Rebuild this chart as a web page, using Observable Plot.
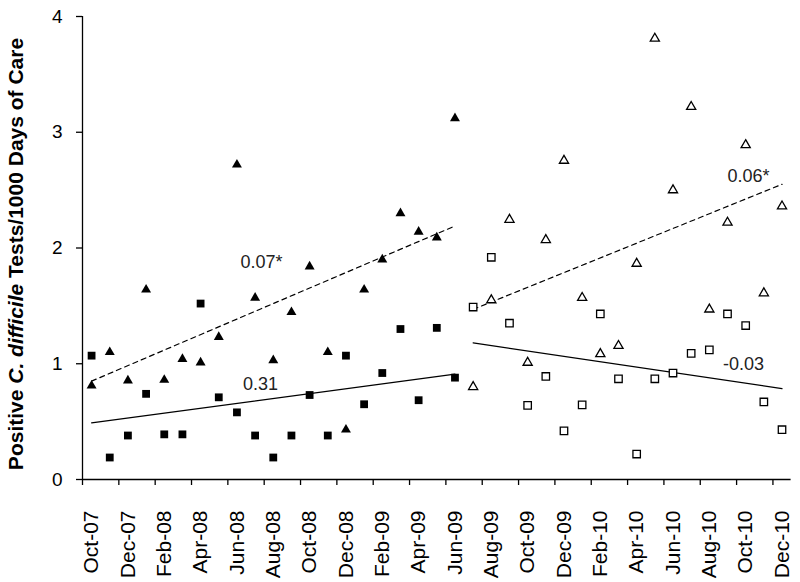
<!DOCTYPE html>
<html>
<head>
<meta charset="utf-8">
<script src="https://cdn.jsdelivr.net/npm/d3@7"></script>
<script src="https://cdn.jsdelivr.net/npm/@observablehq/plot@0.6"></script>
<style>
  html, body { margin: 0; padding: 0; background: #fff; }
  svg { font-family: "Liberation Sans", Arial, sans-serif; }
</style>
</head>
<body>
<div id="chart"></div>
<script>
// Months (categories)
const months = ["Oct-07","Nov-07","Dec-07","Jan-08","Feb-08","Mar-08","Apr-08","May-08","Jun-08","Jul-08","Aug-08","Sep-08",
  "Oct-08","Nov-08","Dec-08","Jan-09","Feb-09","Mar-09","Apr-09","May-09","Jun-09","Jul-09","Aug-09","Sep-09",
  "Oct-09","Nov-09","Dec-09","Jan-10","Feb-10","Mar-10","Apr-10","May-10","Jun-10","Jul-10","Aug-10","Sep-10",
  "Oct-10","Nov-10","Dec-10"];

// Period 1 (Oct-07 .. Jun-09), filled markers
const triangleBefore = [0.81,1.10,0.855,1.64,0.86,1.04,1.01,1.23,2.72,1.57,1.03,1.445,1.84,1.10,0.43,1.64,1.90,2.30,2.14,2.09,3.12];
const squareBefore   = [1.07,0.19,0.38,0.74,0.39,0.39,1.52,0.71,0.58,0.38,0.19,0.38,0.73,0.38,1.07,0.65,0.92,1.30,0.685,1.31,0.88];
// Period 2 (Jul-09 .. Dec-10), open markers
const triangleAfter  = [0.80,1.55,2.245,1.01,2.07,2.755,1.57,1.085,1.155,1.865,3.81,2.50,3.22,1.47,2.22,2.89,1.61,2.36];
const squareAfter    = [1.49,1.92,1.35,0.64,0.89,0.42,0.645,1.43,0.87,0.22,0.87,0.92,1.09,1.12,1.43,1.33,0.67,0.43];

// Trend line end values (month, value)
const trendTriBefore = [["Oct-07",0.85],["Jun-09",2.19]];
const trendSqBefore  = [["Oct-07",0.49],["Jun-09",0.91]];
const trendTriAfter  = [["Jul-09",1.47],["Dec-10",2.55]];
const trendSqAfter   = [["Jul-09",1.18],["Dec-10",0.785]];

// Slope annotations (label, month position, value)
const annotations = [["0.07*",9.85,1.88],["0.31",9.8,0.82],["0.06*",36.65,2.62],["-0.03",36.38,1.0]];

const yTicks = [0,1,2,3,4];

const idx = m => months.indexOf(m) + 0.5;
const pts = (arr, offset) => arr.map((v, k) => ({x: offset + k + 0.5, y: v}));
const trend = arr => arr.map(([m, v]) => ({x: idx(m), y: v}));

const labelTicks = months.map((m, i) => i).filter(i => i % 2 === 0).map(i => i + 0.5);
const boundaryTicks = months.map((m, i) => i).filter(i => i % 2 === 0);

const chart = Plot.plot({
  width: 800,
  height: 582,
  marginLeft: 82,
  marginRight: 9.4,
  marginTop: 16,
  marginBottom: 103,
  style: {fontFamily: "'Liberation Sans', Arial, sans-serif", background: "#fff"},
  x: {domain: [0, months.length], axis: null},
  y: {domain: [0, 4], axis: null},
  marks: [
    Plot.ruleY([0], {stroke: "#000", strokeWidth: 1.3}),
    Plot.ruleX([0], {stroke: "#000", strokeWidth: 1.3}),
    Plot.axisX(boundaryTicks, {tickSize: 6, tickFormat: () => "", label: null, stroke: "#000", strokeWidth: 1.3}),
    Plot.axisX(labelTicks, {tickSize: 0, tickRotate: -90, tickPadding: 31, fontSize: 21, fill: "#000", label: null,
      tickFormat: d => months[Math.round(d - 0.5)]}),
    Plot.axisY(yTicks, {tickSize: 6, tickPadding: 14, fontSize: 19, fill: "#000", stroke: "#000", strokeWidth: 1.3,
      label: null, tickFormat: d => String(d)}),
    Plot.line(trend(trendTriBefore), {x: "x", y: "y", stroke: "#000", strokeWidth: 1.2, strokeDasharray: "5,4"}),
    Plot.line(trend(trendSqBefore), {x: "x", y: "y", stroke: "#000", strokeWidth: 1.2}),
    Plot.line(trend(trendTriAfter), {x: "x", y: "y", stroke: "#000", strokeWidth: 1.2, strokeDasharray: "5,4"}),
    Plot.line(trend(trendSqAfter), {x: "x", y: "y", stroke: "#000", strokeWidth: 1.2}),
    Plot.dot(pts(triangleBefore, 0), {x: "x", y: "y", symbol: "triangle", r: 3.7, fill: "#000", stroke: "none"}),
    Plot.dot(pts(squareBefore, 0), {x: "x", y: "y", symbol: "square", r: 4.4, fill: "#000", stroke: "none"}),
    Plot.dot(pts(triangleAfter, 21), {x: "x", y: "y", symbol: "triangle", r: 3.4, fill: "#fff", stroke: "#000", strokeWidth: 1.3}),
    Plot.dot(pts(squareAfter, 21), {x: "x", y: "y", symbol: "square", r: 4.2, fill: "#fff", stroke: "#000", strokeWidth: 1.3}),
    Plot.text(annotations, {x: d => d[1], y: d => d[2], text: d => d[0], fontSize: 18, fill: "#222"})
  ]
});

// Y-axis title with italic species name
const svg = d3.select(chart);
const t = svg.append("text")
  .attr("transform", "translate(23,254) rotate(-90)")
  .attr("text-anchor", "middle")
  .attr("font-weight", "bold")
  .attr("font-size", 21)
  .attr("fill", "#000");
t.append("tspan").text("Positive ");
t.append("tspan").attr("font-style", "italic").text("C. difficile");
t.append("tspan").text(" Tests/1000 Days of Care");

document.getElementById("chart").appendChild(chart);
</script>
</body>
</html>
